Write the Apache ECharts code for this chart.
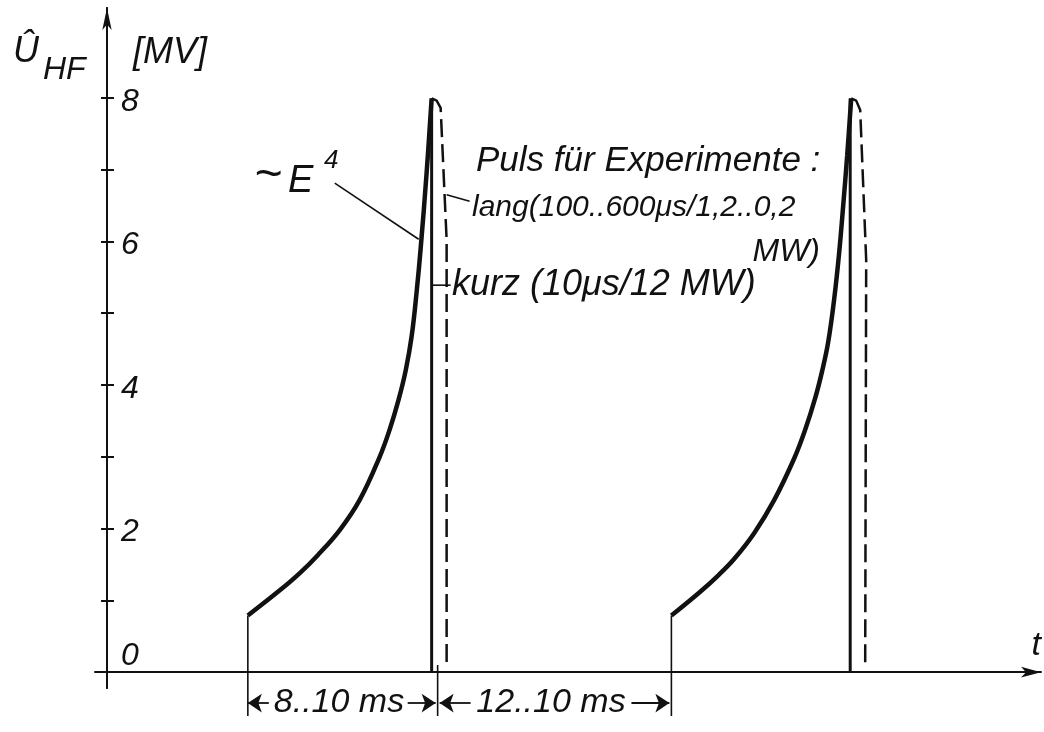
<!DOCTYPE html>
<html>
<head>
<meta charset="utf-8">
<script src="https://cdn.jsdelivr.net/npm/echarts@6.0.0/dist/echarts.min.js"></script>
<style>
html,body{margin:0;padding:0;background:#ffffff;}
#chart{width:1044px;height:732px;}
</style>
</head>
<body>
<div id="chart"></div>
<script>
// ---------------- data ----------------
const yTickValues  = [0, 1, 2, 3, 4, 5, 6, 7, 8];
const yLabelValues = [0, 2, 4, 6, 8];

// time in ms (origin at the voltage axis), voltage in MV
const rise1T = [7.05, 8.65, 9.65, 10.55, 11.65, 12.65, 13.65, 14.15, 14.6, 14.95, 15.25, 15.5, 15.7, 16.0, 16.25];
const rise1U = [0.79, 1.14, 1.38, 1.63, 1.98, 2.40, 3.00, 3.38, 3.80, 4.20, 4.68, 5.30, 5.90, 6.96, 7.99];
const drop1T = [16.25, 16.25];
const drop1U = [7.99, 0];
const long1T = [16.25, 16.5, 16.7, 17.0, 17.0];
const long1U = [7.99, 7.96, 7.86, 6.02, 0.06];

const rise2T = [28.25, 29.65, 30.6, 31.4, 32.4, 33.4, 34.4, 34.95, 35.45, 35.8, 36.1, 36.4, 36.65, 36.85, 37.05, 37.25];
const rise2U = [0.79, 1.11, 1.35, 1.58, 1.94, 2.40, 2.98, 3.38, 3.82, 4.20, 4.60, 5.20, 5.85, 6.50, 7.20, 7.99];
const drop2T = [37.2, 37.2];
const drop2U = [7.99, 0];
const long2T = [37.25, 37.5, 37.7, 38.0, 37.95];
const long2U = [7.99, 7.96, 7.83, 5.74, 0.07];

// dimension lines below the time axis
const dimEdgeT    = [7.05, 16.55, 28.25];
const dimEdgeTopU = [0.79, 0.10, 0.79];
const dimBottomU  = -0.61;
const dimLineU    = -0.43;
const dimArrows   = [[8.1, 7.05], [15.05, 16.45], [18.2, 16.65], [26.25, 28.15]]; // [tail, head]
const dimTexts    = ['8..10 ms', '12..10 ms'];

// leader lines of the annotations
const leaderE4   = [[11.4, 6.81], [15.6, 6.03]];
const leaderLang = [[17.0, 6.65], [18.15, 6.56]];
const leaderKurz = [[16.25, 5.39], [17.2, 5.39]];

// ---------------- chart ----------------
const FONT = 'Liberation Sans';
const INK = '#111111';
const zip = (a, b) => a.map((v, i) => [v, b[i]]);

const chart = echarts.init(document.getElementById('chart'));

function lineSeries(data, width, dashed, smooth) {
  return {
    type: 'line', data: data, symbol: 'none', smooth: smooth || false,
    clip: false, silent: true, animation: false,
    lineStyle: { color: INK, width: width, type: dashed ? [18, 7] : 'solid', cap: 'butt' }
  };
}

const series = [
  lineSeries(zip(rise1T, rise1U), 4.5, false, 0.4),
  lineSeries(zip(drop1T, drop1U), 3, false),
  lineSeries(zip(long1T, long1U), 2.5, true),
  lineSeries(zip(rise2T, rise2U), 4.5, false, 0.4),
  lineSeries(zip(drop2T, drop2U), 3, false),
  lineSeries(zip(long2T, long2U), 2.5, true),
  lineSeries(leaderE4, 1.6, false),
  lineSeries(leaderLang, 1.6, false),
  lineSeries(leaderKurz, 1.6, false)
];
dimEdgeT.forEach((t, i) => {
  series.push(lineSeries([[t, dimEdgeTopU[i]], [t, dimBottomU]], 1.6, false));
});
series.push({
  type: 'lines', coordinateSystem: 'cartesian2d', clip: false, silent: true, animation: false,
  symbol: ['none', 'arrow'], symbolSize: [10, 14],
  lineStyle: { color: INK, width: 1.8, opacity: 1 },
  data: dimArrows.map(a => ({ coords: [[a[0], dimLineU], [a[1], dimLineU]] }))
});

const italic = (size) => ({ fontFamily: FONT, fontStyle: 'italic', fontSize: size, color: INK });
const txt = (x, y, text, size, align) => ({
  type: 'text', x: x, y: y, silent: true,
  style: { text: text, fontFamily: FONT, fontStyle: 'italic', fontSize: size, fill: INK,
    align: align || 'left', verticalAlign: 'middle' }
});

chart.setOption({
  animation: false,
  backgroundColor: '#ffffff',
  grid: { left: 95, right: 2, top: 8, bottom: 44 },
  xAxis: [{
    type: 'value', min: -0.6, max: 46.75,
    axisLine: { show: true, onZero: true, symbol: ['none', 'arrow'], symbolSize: [8, 20],
      lineStyle: { color: INK, width: 2 } },
    axisTick: { show: false }, axisLabel: { show: false }, splitLine: { show: false },
    name: 't', nameLocation: 'end', nameGap: 0,
    nameTextStyle: Object.assign(italic(34), { align: 'right', verticalAlign: 'bottom', padding: [0, 0, 10, 0] })
  }, {
    // twin of the time axis, only used to anchor the second (inner-tick) voltage axis on t = 0
    type: 'value', min: -0.6, max: 46.75, show: false,
    axisLine: { onZero: false }
  }],
  yAxis: [{
    type: 'value', min: -0.22, max: 9.25, position: 'left',
    axisLine: { show: true, onZero: true, symbol: ['none', 'arrow'], symbolSize: [7, 22],
      lineStyle: { color: INK, width: 2 } },
    axisTick: { show: true, inside: false, length: 6, customValues: yTickValues,
      lineStyle: { color: INK, width: 2 } },
    axisLabel: {
      show: true, inside: true, margin: 26, customValues: yLabelValues, align: 'left',
      fontFamily: FONT, fontStyle: 'italic', fontSize: 32, color: INK,
      formatter: v => v === 0 ? '{z|0}' : '{n|' + v + '}',
      rich: {
        z: Object.assign(italic(32), { padding: [0, 0, 32, 0] }),
        n: Object.assign(italic(32), { padding: [8, 0, 0, 0] })
      }
    },
    splitLine: { show: false }
  }, {
    type: 'value', min: -0.22, max: 9.25, position: 'left',
    axisLine: { show: true, onZero: true, lineStyle: { color: INK, width: 2 } },
    axisTick: { show: true, inside: true, length: 7, customValues: yTickValues,
      lineStyle: { color: INK, width: 2 } },
    axisLabel: { show: false },
    splitLine: { show: false }
  }],
  series: series,
  graphic: [
    txt(13, 52, 'Û', 36),
    txt(43, 70, 'HF', 32),
    txt(133, 53, '[MV]', 36),
    txt(254, 176, '~', 48),
    txt(288, 181, 'E', 38),
    txt(324, 161, '4', 26),
    txt(476, 161, 'Puls für Experimente :', 35),
    txt(472, 208, 'lang(100..600μs/1,2..0,2', 30),
    txt(820, 252, 'MW)', 32, 'right'),
    txt(452, 285, 'kurz (10μs/12 MW)', 36),
    txt(339, 703, dimTexts[0], 34, 'center'),
    txt(551, 703, dimTexts[1], 34, 'center')
  ]
});
</script>
</body>
</html>
